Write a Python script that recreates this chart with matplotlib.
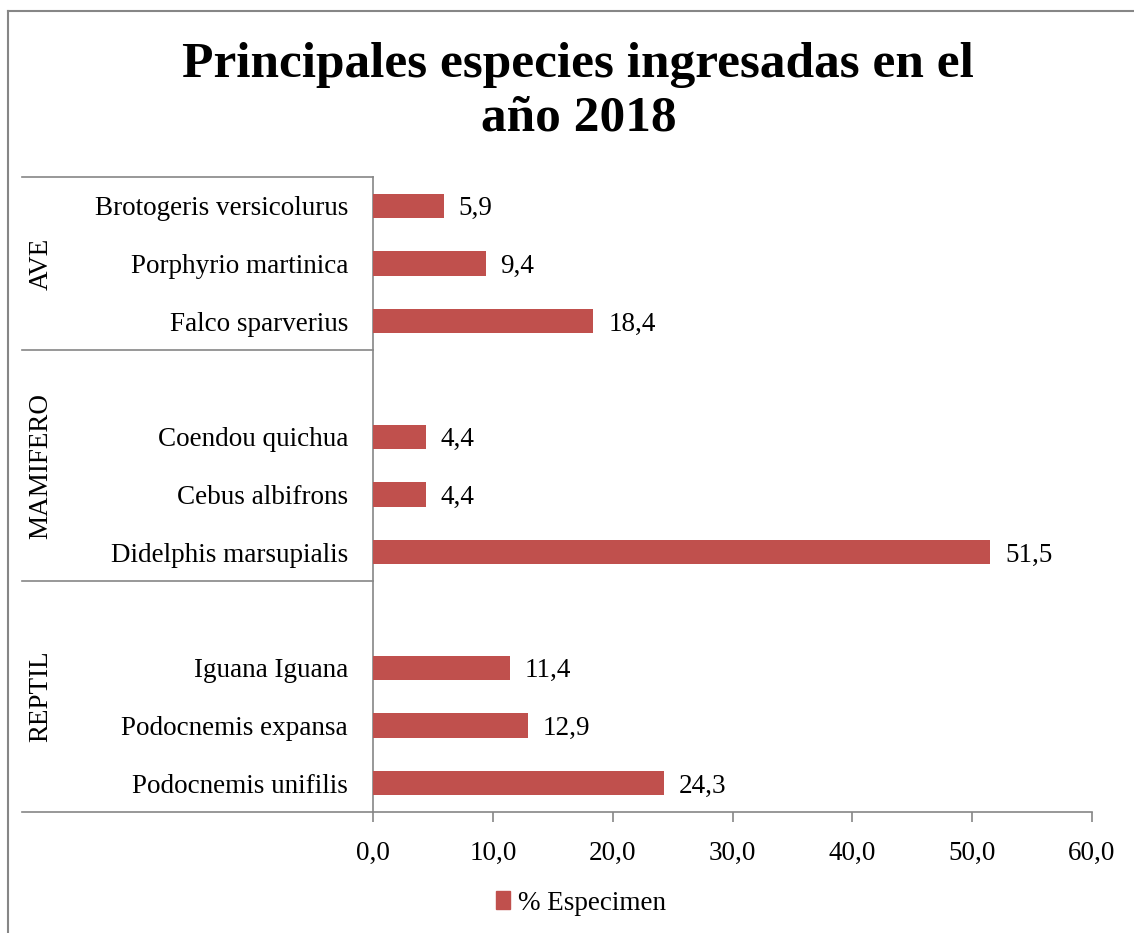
import numpy as np
import matplotlib.pyplot as plt
from matplotlib.patches import Patch

plt.rcParams['font.family'] = ['Liberation Serif', 'DejaVu Serif']

# datos
grupos = ['AVE', 'MAMIFERO', 'REPTIL']
especies = [
    ['Brotogeris versicolurus', 'Porphyrio martinica', 'Falco sparverius'],
    ['Coendou quichua', 'Cebus albifrons', 'Didelphis marsupialis'],
    ['Iguana Iguana', 'Podocnemis expansa', 'Podocnemis unifilis'],
]
valores = [
    [5.9, 9.4, 18.4],
    [4.4, 4.4, 51.5],
    [11.4, 12.9, 24.3],
]
ticks_x = [0, 10, 20, 30, 40, 50, 60]

rojo = '#C0504D'
gris = '#868686'
fs = 19.5

# posiciones tipo Excel: un hueco vacio entre grupos
pos, etiquetas, vals = [], [], []
limites = []
y = 0
for g, (esp, v) in enumerate(zip(especies, valores)):
    if g > 0:
        y += 1
    inicio = y
    for e, val in zip(esp, v):
        pos.append(y)
        etiquetas.append(e)
        vals.append(val)
        y += 1
    limites.append((inicio - 0.5 - (1 if g > 0 else 0), y - 0.5))
n_slots = y

fig = plt.figure(figsize=(11.34, 9.33), dpi=100)
ax = fig.add_axes([373/1134, 1 - 812/933, (1092-373)/1134, (812-177)/933])

ax.barh(pos, vals, height=0.42, color=rojo, zorder=3)
for p, v in zip(pos, vals):
    ax.text(v + 1.25, p + 0.05, f'{v:.1f}'.replace('.', ','), va='center', ha='left',
            fontsize=fs)

ax.set_ylim(n_slots - 0.5, -0.5)
ax.set_xlim(0, 60)
ax.set_xticks(ticks_x)
ax.set_xticklabels([f'{t:.1f}'.replace('.', ',') for t in ticks_x], fontsize=fs)
ax.set_yticks(pos)
ax.set_yticklabels(etiquetas, fontsize=fs)
ax.tick_params(axis='y', length=0, pad=18)
ax.tick_params(axis='x', length=7, color=gris, width=1.2, pad=14)

for s in ['top', 'right']:
    ax.spines[s].set_visible(False)
for s in ['left', 'bottom']:
    ax.spines[s].set_color(gris)
    ax.spines[s].set_linewidth(1.2)

# eje de categorias multinivel
x0 = (22 - 373) / (1092 - 373)
trans = ax.get_yaxis_transform()
bordes = sorted(set([b for lim in limites for b in lim]))
for b in bordes:
    ax.plot([x0, 0], [b, b], color=gris, lw=1.2, transform=trans, clip_on=False)
xg = (41 - 373) / (1092 - 373)
for g, lim in zip(grupos, limites):
    ax.text(xg, (lim[0] + lim[1]) / 2, g, rotation=90, ha='center', va='center',
            fontsize=fs, transform=trans)

fig.text(0.51, 1 - 92/933, 'Principales especies ingresadas en el\naño 2018',
         ha='center', va='center', fontsize=37, fontweight='bold', linespacing=1.2)

# marco exterior
fig.add_artist(plt.Line2D([8/1134, 8/1134], [0, 1 - 11/933], color=gris, lw=1.5))
fig.add_artist(plt.Line2D([8/1134, 1], [1 - 11/933, 1 - 11/933], color=gris, lw=1.5))

fig.legend(handles=[Patch(color=rojo, label='% Especimen')], loc='center',
           bbox_to_anchor=(581/1134, 1 - 903/933), frameon=False, fontsize=fs,
           handlelength=0.5, handleheight=0.6, handletextpad=0.3)

fig.savefig('out.png', dpi=100)
